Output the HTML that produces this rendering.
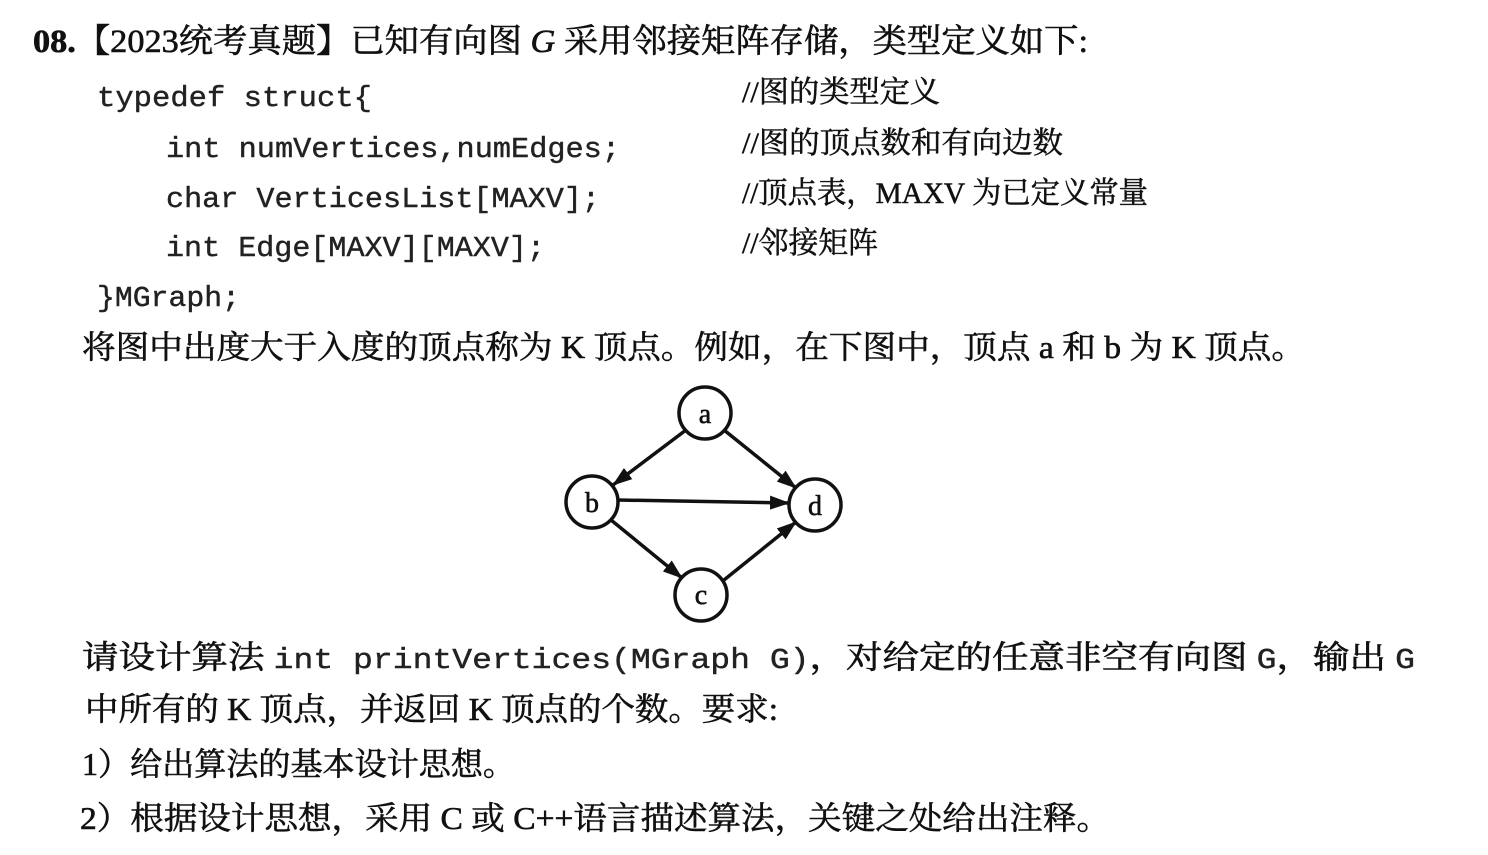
<!DOCTYPE html>
<html><head><meta charset="utf-8"><style>
html,body{margin:0;padding:0;background:#fff;width:1488px;height:855px;overflow:hidden}
svg{display:block}
.s{font-family:"Liberation Serif","Noto Serif CJK SC",serif;fill:#111;stroke:#111;stroke-width:0.6}
.m{font-family:"Liberation Mono","Noto Sans CJK SC",monospace;fill:#222;font-size:29px;stroke:#222;stroke-width:0.4}
.c{font-family:"Liberation Serif","Noto Serif CJK SC",serif;fill:#111;font-size:30px;stroke:#111;stroke-width:0.5}
</style></head><body>
<svg width="1488" height="855" viewBox="0 0 1488 855" xmlns="http://www.w3.org/2000/svg">
<defs>
<marker id="ah" viewBox="0 0 20 14" markerWidth="20" markerHeight="14" refX="19" refY="7" orient="auto" markerUnits="userSpaceOnUse"><path d="M0,0 L20,7 L0,14 Z" fill="#111"/></marker></defs>
<text class="s" x="33" y="52" font-size="33" textLength="1055" lengthAdjust="spacingAndGlyphs"><tspan font-weight="bold">08.</tspan>【2023统考真题】已知有向图 <tspan font-style="italic">G</tspan> 采用邻接矩阵存储，类型定义如下:</text>
<text class="m" x="97" y="106" textLength="275" lengthAdjust="spacingAndGlyphs">typedef struct{</text>
<text class="m" x="166" y="157" textLength="454" lengthAdjust="spacingAndGlyphs">int numVertices,numEdges;</text>
<text class="m" x="166" y="207" textLength="434" lengthAdjust="spacingAndGlyphs">char VerticesList[MAXV];</text>
<text class="m" x="166" y="256" textLength="379" lengthAdjust="spacingAndGlyphs">int Edge[MAXV][MAXV];</text>
<text class="m" x="97" y="306" textLength="143" lengthAdjust="spacingAndGlyphs">}MGraph;</text>
<text class="c" x="742" y="102" textLength="198" lengthAdjust="spacingAndGlyphs">//图的类型定义</text>
<text class="c" x="742" y="153" textLength="321" lengthAdjust="spacingAndGlyphs">//图的顶点数和有向边数</text>
<text class="c" x="742" y="203" textLength="406" lengthAdjust="spacingAndGlyphs">//顶点表，MAXV 为已定义常量</text>
<text class="c" x="742" y="253" textLength="136" lengthAdjust="spacingAndGlyphs">//邻接矩阵</text>
<text class="s" x="82" y="358" font-size="32" textLength="1223" lengthAdjust="spacingAndGlyphs">将图中出度大于入度的顶点称为 K 顶点。例如，在下图中，顶点 a 和 b 为 K 顶点。</text>
<g stroke="#111" stroke-width="3.5" fill="none">
<line x1="686" y1="430" x2="613" y2="485" marker-end="url(#ah)"/>
<line x1="724" y1="430" x2="796" y2="488" marker-end="url(#ah)"/>
<line x1="618" y1="500" x2="789" y2="503" marker-end="url(#ah)"/>
<line x1="611" y1="520" x2="682" y2="578" marker-end="url(#ah)"/>
<line x1="724" y1="580" x2="796" y2="522" marker-end="url(#ah)"/>
<circle cx="705" cy="413" r="26" fill="#fff"/>
<circle cx="592" cy="502" r="26" fill="#fff"/>
<circle cx="815" cy="505" r="26" fill="#fff"/>
<circle cx="701" cy="595" r="26" fill="#fff"/>
</g>
<g class="s" font-size="28" text-anchor="middle">
<text x="705" y="423">a</text><text x="592" y="512">b</text><text x="815" y="515">d</text><text x="701" y="604">c</text>
</g>
<text class="s" x="82" y="668" font-size="32" textLength="1333" lengthAdjust="spacingAndGlyphs">请设计算法 <tspan class="m">int printVertices(MGraph G)</tspan>，对给定的任意非空有向图 <tspan class="m">G</tspan>，输出 <tspan class="m">G</tspan></text>
<text class="s" x="85" y="720" font-size="32" textLength="693" lengthAdjust="spacingAndGlyphs">中所有的 K 顶点，并返回 K 顶点的个数。要求:</text>
<text class="s" x="82" y="775" font-size="32" textLength="433" lengthAdjust="spacingAndGlyphs">1）给出算法的基本设计思想。</text>
<text class="s" x="80" y="829" font-size="32" textLength="1030" lengthAdjust="spacingAndGlyphs">2）根据设计思想，采用 C 或 C++语言描述算法，关键之处给出注释。</text>
</svg>
</body></html>
